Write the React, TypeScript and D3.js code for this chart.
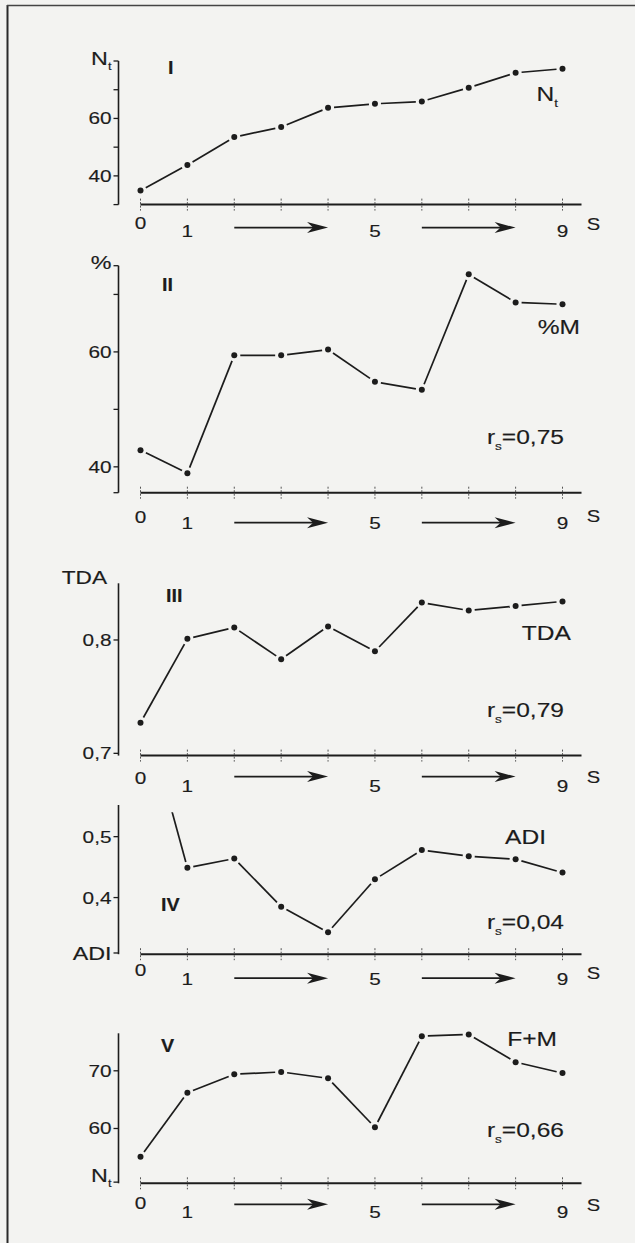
import React from 'react';
import * as d3 from 'd3';

// stations along the gradient (x axis)
const stations = [0, 1, 2, 3, 4, 5, 6, 7, 8, 9];
const stationLabels = ['0', '1', '', '', '', '5', '', '', '', '9'];

// series
const ntValues = [34.9, 43.8, 53.5, 57.0, 63.7, 65.1, 65.9, 70.7, 75.9, 77.3];
const pctMValues = [42.9, 38.9, 59.4, 59.4, 60.4, 54.8, 53.4, 73.5, 68.6, 68.3];
const tdaValues = [0.727, 0.801, 0.811, 0.783, 0.812, 0.79, 0.833, 0.826, 0.83, 0.834];
const adiValues = [0.73, 0.449, 0.464, 0.385, 0.343, 0.43, 0.478, 0.468, 0.463, 0.441];
const fmValues = [55.1, 66.2, 69.4, 69.8, 68.7, 60.2, 76.0, 76.3, 71.5, 69.6];

// y ticks and their labels ("_" marks a subscript)
const ntTicks = [30, 40, 50, 60, 70, 80];
const ntTickLabels = ['', '40', '', '60', '', 'N_t'];
const pctTicks = [35.5, 40, 50, 60, 70, 75];
const pctTickLabels = ['', '40', '', '60', '', '%'];
const tdaTicks = [0.7, 0.8];
const tdaTickLabels = ['0,7', '0,8'];
const adiTicks = [0.309, 0.4, 0.5];
const adiTickLabels = ['ADI', '0,4', '0,5'];
const fmTicks = [50.7, 60, 70];
const fmTickLabels = ['N_t', '60', '70'];

const numerals = ['I', 'II', 'III', 'IV', 'V'];
const seriesNames = ['N_t', '%M', 'TDA', 'ADI', 'F+M'];
const rsValues = ['', 'r_s=0,75', 'r_s=0,79', 'r_s=0,04', 'r_s=0,66'];

const INK = '#1c1c1c';
const FONT = '"Liberation Sans", Arial, Helvetica, sans-serif';

// layout of each panel (pixels)
const panels = [
  {
    values: ntValues, ticks: ntTicks, tickLabels: ntTickLabels,
    domain: [30, 80], range: [204.6, 61],
    numeral: [168, 68], name: [558, 94], rs: null, title: null,
    labelDy: [18, 26, 20, 23], clipTop: null,
  },
  {
    values: pctMValues, ticks: pctTicks, tickLabels: pctTickLabels,
    domain: [35.5, 75], range: [492.7, 265.7],
    numeral: [162, 285], name: [580, 327], rs: 437, title: null,
    labelDy: [24, 30, 24, 30], clipTop: null,
  },
  {
    values: tdaValues, ticks: tdaTicks, tickLabels: tdaTickLabels,
    domain: [0.698, 0.85], range: [755.6, 583.3],
    numeral: [166, 596], name: [571, 633], rs: 710, title: ['TDA', 107, 578],
    labelDy: [22, 30, 22, 21], clipTop: null,
  },
  {
    values: adiValues, ticks: adiTicks, tickLabels: adiTickLabels,
    domain: [0.307, 0.552], range: [954.2, 805],
    numeral: [161, 905], name: [546, 837], rs: 922, title: null,
    labelDy: [16, 25, 19, 24], clipTop: 0.54,
  },
  {
    values: fmValues, ticks: fmTicks, tickLabels: fmTickLabels,
    domain: [50.5, 76.5], range: [1183.3, 1033.3],
    numeral: [161, 1046], name: [557, 1039], rs: 1130, title: null,
    labelDy: [20, 29, 22, 21], clipTop: null,
  },
];

const x = d3.scaleLinear().domain([0, 9]).range([140.5, 562.5]);
const AXIS_X = 118.5;

function Label({ x, y, text, size, anchor = 'start', weight = 'normal', stretch = 1.26 }) {
  const parts = text.split('_');
  const sub = parts.length > 1 ? parts[1] : null;
  return (
    <text
      transform={`translate(${x},${y}) scale(${stretch},1)`}
      dy="0.36em"
      fontSize={size}
      fontWeight={weight}
      textAnchor={anchor}
      fill={INK}
      stroke={INK}
      strokeWidth={0.15}
      fontFamily={FONT}
    >
      {parts[0]}
      {sub && (
        <>
          <tspan fontSize={size * 0.55} dy={size * 0.3}>{sub[0]}</tspan>
          <tspan dy={-size * 0.3}>{sub.slice(1)}</tspan>
        </>
      )}
    </text>
  );
}

function Arrow({ from, to, y }) {
  const x1 = x(from);
  const x2 = x(to);
  return (
    <g>
      <line x1={x1} x2={x2 - 14} y1={y} y2={y} stroke={INK} strokeWidth={1.7} />
      <path
        d={`M${x2},${y} L${x2 - 21},${y - 5.5} L${x2 - 15},${y} L${x2 - 21},${y + 5.5} Z`}
        fill={INK}
      />
    </g>
  );
}

function Panel({ p, idx }) {
  const y = d3.scaleLinear().domain(p.domain).range(p.range);
  const base = p.range[0];
  const top = p.range[1];
  const gap = 6;
  const pts = p.values.map((v, i) => [x(stations[i]), y(v)]);
  const segs = [];
  for (let i = 0; i < pts.length - 1; i++) {
    const [ax, ay] = pts[i];
    const [bx, by] = pts[i + 1];
    const d = Math.hypot(bx - ax, by - ay);
    const ux = (bx - ax) / d;
    const uy = (by - ay) / d;
    segs.push([ax + ux * gap, ay + uy * gap, bx - ux * gap, by - uy * gap]);
  }
  const clipId = `clip-${idx}`;
  const clipY = p.clipTop != null ? y(p.clipTop) : 0;
  const [d0, d1, dS, dA] = p.labelDy;

  return (
    <g>
      {p.clipTop != null && (
        <clipPath id={clipId}>
          <rect x={0} y={clipY} width={635} height={base - clipY + 20} />
        </clipPath>
      )}

      {/* y axis */}
      <line x1={AXIS_X} x2={AXIS_X} y1={top} y2={base} stroke={INK} strokeWidth={1.6} />
      {p.ticks.map((t, i) => {
        const lab = p.tickLabels[i];
        const isWord = lab && !/[0-9]/.test(lab);
        return (
          <g key={i}>
            <line x1={AXIS_X - 5} x2={AXIS_X} y1={y(t)} y2={y(t)} stroke={INK} strokeWidth={1.3} />
            {lab && (
              <Label
                x={AXIS_X - 7}
                y={y(t) - (lab === 'N_t' && i === 0 ? 7 : lab === '%' ? 3 : lab === 'N_t' ? 3 : 0)}
                text={lab}
                size={isWord ? 18.5 : 16.5}
                anchor="end"
              />
            )}
          </g>
        );
      })}
      {p.title && <Label x={p.title[1]} y={p.title[2]} text={p.title[0]} size={18} anchor="end" />}

      {/* x axis */}
      <line x1={x(0)} x2={x(9) + 19} y1={base} y2={base} stroke={INK} strokeWidth={2} />
      {stations.map((s) => (
        <line
          key={s}
          x1={x(s)}
          x2={x(s)}
          y1={base - 6}
          y2={base + 6}
          stroke="#555"
          strokeWidth={1}
          strokeDasharray="2,1.5"
        />
      ))}
      {stations.map((s, i) =>
        stationLabels[i] ? (
          <Label key={s} x={x(s)} y={base + (i === 0 ? d0 : d1)} text={stationLabels[i]} size={16.5} anchor="middle" />
        ) : null
      )}
      <Label x={x(9) + 31} y={base + dS} text="S" size={16} anchor="middle" />
      <Arrow from={2} to={4} y={base + dA} />
      <Arrow from={6} to={8} y={base + dA} />

      {/* series */}
      <g clipPath={p.clipTop != null ? `url(#${clipId})` : undefined}>
        {segs.map((s, i) => (
          <line key={i} x1={s[0]} y1={s[1]} x2={s[2]} y2={s[3]} stroke={INK} strokeWidth={1.7} />
        ))}
        {pts.map(([px, py], i) =>
          py >= clipY ? <circle key={i} cx={px} cy={py} r={3} fill={INK} /> : null
        )}
      </g>

      {/* annotations */}
      <Label x={p.numeral[0]} y={p.numeral[1]} text={numerals[idx]} size={18} weight="bold" stretch={1.1} />
      <Label x={p.name[0]} y={p.name[1]} text={seriesNames[idx]} size={19.5} anchor="end" />
      {p.rs != null && <Label x={564} y={p.rs} text={rsValues[idx]} size={19.5} anchor="end" />}
    </g>
  );
}

export default function App() {
  return (
    <svg
      width={635}
      height={1243}
      style={{ position: 'absolute', left: 0, top: 0, display: 'block' }}
    >
      <rect x={0} y={0} width={635} height={1243} fill="#f3f3f1" />
      <line x1={7.5} x2={7.5} y1={5} y2={1243} stroke="#2a2a2a" strokeWidth={2} />
      <line x1={7} x2={635} y1={5.5} y2={5.5} stroke="#444" strokeWidth={1.5} />
      {panels.map((p, i) => (
        <Panel key={i} p={p} idx={i} />
      ))}
    </svg>
  );
}
